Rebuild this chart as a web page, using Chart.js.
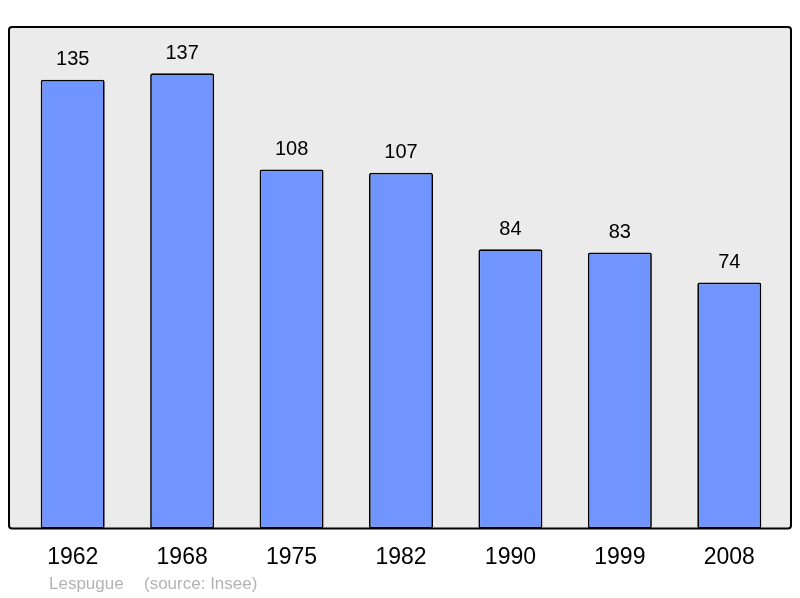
<!DOCTYPE html>
<html>
<head>
<meta charset="utf-8">
<script src="https://cdn.jsdelivr.net/npm/chart.js@4.4.0/dist/chart.umd.min.js"></script>
<style>
  html, body { margin: 0; padding: 0; background: #fff; }
  #wrap { width: 800px; height: 598px; position: relative; }
</style>
</head>
<body>
<div id="wrap"><canvas id="chart"></canvas></div>
<script>
const years = ["1962", "1968", "1975", "1982", "1990", "1999", "2008"];
const population = [135, 137, 108, 107, 84, 83, 74];
const footerName = "Lespugue";
const footerSource = "(source: Insee)";

// grey frame behind the bars
const framePlugin = {
  id: "frame",
  beforeDatasetsDraw(chart) {
    const { ctx, chartArea } = chart;
    ctx.save();
    ctx.beginPath();
    ctx.roundRect(9, chartArea.top, 782, chartArea.bottom - chartArea.top, 3);
    ctx.fillStyle = "#ebebeb";
    ctx.fill();
    ctx.restore();
  },
  afterDatasetsDraw(chart) {
    const { ctx, chartArea } = chart;
    ctx.save();
    ctx.beginPath();
    ctx.roundRect(9, chartArea.top, 782, chartArea.bottom - chartArea.top, 3);
    ctx.lineWidth = 2;
    ctx.strokeStyle = "#000";
    ctx.stroke();
    ctx.restore();
  }
};

// numbers above bars + footer text
const labelPlugin = {
  id: "labels",
  afterDraw(chart) {
    const { ctx } = chart;
    const meta = chart.getDatasetMeta(0);
    ctx.save();
    ctx.font = "20px 'Liberation Sans', Arial, sans-serif";
    ctx.fillStyle = "#000";
    ctx.textAlign = "center";
    ctx.textBaseline = "middle";
    meta.data.forEach((bar, i) => {
      ctx.fillText(population[i], bar.x, bar.y - 20);
    });
    ctx.font = "17px 'Liberation Sans', Arial, sans-serif";
    ctx.fillStyle = "#b3b3b3";
    ctx.textAlign = "left";
    ctx.fillText(footerName, 49, 584);
    ctx.fillText(footerSource, 144, 584);
    ctx.restore();
  }
};

new Chart(document.getElementById("chart"), {
  type: "bar",
  data: {
    labels: years,
    datasets: [{
      data: population,
      backgroundColor: "#7095ff",
      borderColor: "#000",
      borderWidth: 1.7,
      borderRadius: 2,
      borderSkipped: false,
      barPercentage: 0.585,
      categoryPercentage: 1
    }]
  },
  options: {
    responsive: true,
    maintainAspectRatio: false,
    animation: false,
    layout: {
      padding: { left: 18, right: 16, top: 27, bottom: 12 }
    },
    plugins: {
      legend: { display: false },
      tooltip: { enabled: false }
    },
    scales: {
      x: {
        grid: { display: false, drawTicks: false },
        border: { display: false },
        ticks: {
          color: "#000",
          padding: 15,
          font: { family: "'Liberation Sans', Arial, sans-serif", size: 23 }
        }
      },
      y: {
        display: false,
        min: 0,
        max: 150.9
      }
    }
  },
  plugins: [framePlugin, labelPlugin]
});
</script>
</body>
</html>
